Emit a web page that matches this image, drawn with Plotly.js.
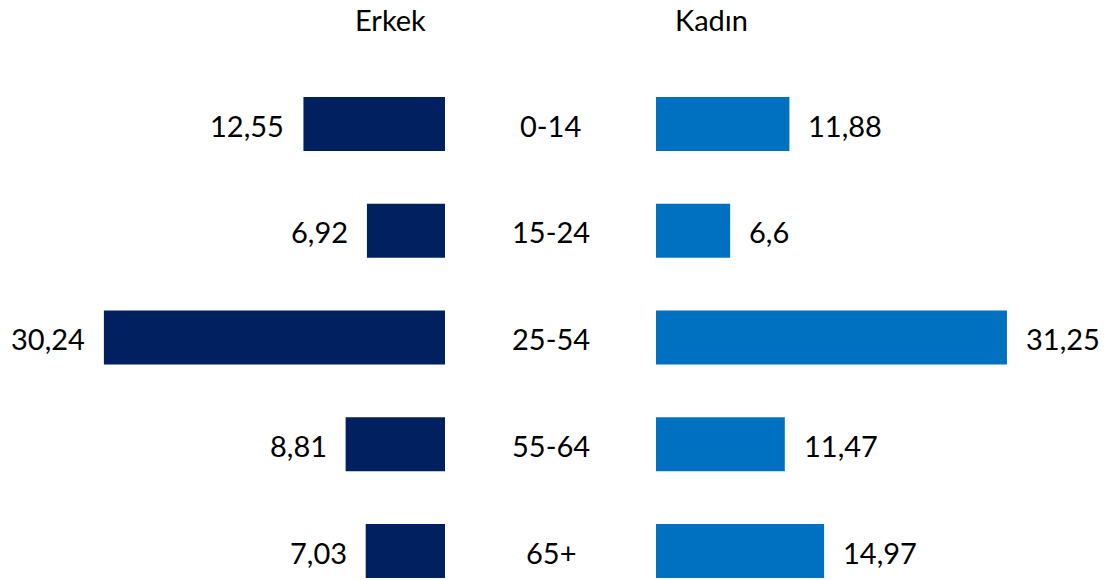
<!DOCTYPE html>
<html>
<head>
<meta charset="utf-8">
<script src="https://cdn.plot.ly/plotly-3.0.1.min.js"></script>
<style>html,body{margin:0;padding:0;background:#fff}#chart{width:1104px;height:580px}</style>
</head>
<body>
<div id="chart"></div>
<script>
const categories = ['0-14', '15-24', '25-54', '55-64', '65+'];
const erkek = [12.55, 6.92, 30.24, 8.81, 7.03];
const kadin = [11.88, 6.6, 31.25, 11.47, 14.97];
const groupTitles = ['Erkek', 'Kadın'];

const W = 1104, H = 580;
const FONT = 'Lato, "Open Sans", sans-serif';
const FS = 29;
const fmt = v => String(v).replace('.', ',');

const idx = categories.map((c, i) => i);

const traces = [
  {type: 'bar', orientation: 'h', x: erkek, y: idx, xaxis: 'x', yaxis: 'y',
   marker: {color: '#002060'}, width: 0.505, hoverinfo: 'skip'},
  {type: 'bar', orientation: 'h', x: kadin, y: idx, xaxis: 'x2', yaxis: 'y',
   marker: {color: '#0070C0'}, width: 0.505, hoverinfo: 'skip'}
];

const font = {family: FONT, size: FS, color: '#000'};
const annotations = [];
erkek.forEach((v, i) => annotations.push({x: v, y: i, xref: 'x', yref: 'y', text: fmt(v),
  showarrow: false, xanchor: 'right', yanchor: 'middle', xshift: -17, yshift: -1, font: font}));
kadin.forEach((v, i) => annotations.push({x: v, y: i, xref: 'x2', yref: 'y', text: fmt(v),
  showarrow: false, xanchor: 'left', yanchor: 'middle', xshift: 17, yshift: -1, font: font}));
categories.forEach((c, i) => annotations.push({x: 0.5, y: i, xref: 'x3', yref: 'y', text: c,
  showarrow: false, xanchor: 'center', yanchor: 'middle', yshift: -1, font: font}));
annotations.push({x: 390 / W, y: 1 - 20 / H, xref: 'paper', yref: 'paper', text: groupTitles[0],
  showarrow: false, xanchor: 'center', yanchor: 'middle', font: font});
annotations.push({x: 711 / W, y: 1 - 20 / H, xref: 'paper', yref: 'paper', text: groupTitles[1],
  showarrow: false, xanchor: 'center', yanchor: 'middle', font: font});

const ax = {showgrid: false, zeroline: false, showticklabels: false, showline: false, ticks: '', fixedrange: true};
const leftEdge = 445, rightEdge = 656;
const layout = {
  width: W, height: H,
  margin: {l: 0, r: 0, t: 0, b: 0},
  paper_bgcolor: '#fff', plot_bgcolor: '#fff',
  showlegend: false,
  xaxis: Object.assign({}, ax, {domain: [0, leftEdge / W], range: [leftEdge / 11.28, 0]}),
  xaxis2: Object.assign({}, ax, {domain: [rightEdge / W, 1], range: [0, (W - rightEdge) / 11.23]}),
  xaxis3: Object.assign({}, ax, {domain: [leftEdge / W, rightEdge / W], range: [0, 1]}),
  yaxis: Object.assign({}, ax, {range: [(H - 124) / 106.75, -124 / 106.75]}),
  annotations: annotations
};

Plotly.newPlot('chart', traces, layout, {displayModeBar: false, staticPlot: true});
</script>
</body>
</html>
